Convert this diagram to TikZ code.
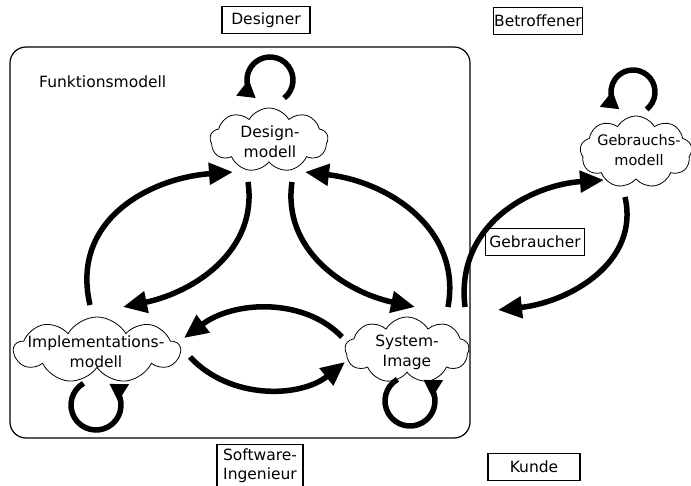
\documentclass[tikz,border=0pt]{standalone}
\usepackage{fontspec}
\setmainfont{DejaVu Sans}
\usetikzlibrary{arrows.meta,shapes.symbols}

\tikzset{
  txt/.style={font=\fontsize{15.5}{20}\selectfont, align=center, inner sep=0pt},
  rolebox/.style={draw, line width=1.3pt, font=\fontsize{15.5}{19}\selectfont,
    align=center, inner xsep=4pt, inner ysep=3pt, minimum height=27pt},
  puff/.style={cloud, cloud puffs=9, cloud puff arc=120, draw, line width=0.8pt,
    fill=white, inner sep=0pt},
  flow/.style={line width=5.5pt, -{Triangle[length=24pt,width=21pt]}},
  selfloop/.style={line width=5.5pt, -{Triangle[length=17pt,width=19pt]}},
}

\begin{document}
\begin{tikzpicture}[x=1pt,y=-1pt]
\useasboundingbox (0,0) rectangle (691,486);

% frame of the function model
\draw[line width=1.2pt, rounded corners=16pt] (10,47) rectangle (470,438);
\node[txt, anchor=west] (fm) at (39,82) {Funktionsmodell};

% role labels
\node[rolebox, minimum width=88pt] (designer) at (266,20) {Designer};
\node[rolebox, inner xsep=0.5pt] (betroffener) at (538,21) {Betroffener};
\node[rolebox, minimum width=90pt] (gebraucher) at (535,242) {Gebraucher};
\node[rolebox, minimum width=86pt, anchor=north, inner ysep=3pt,
      minimum height=50pt, text depth=12pt] (sw) at (260,444) {Software-\\Ingenieur};
\node[rolebox, minimum width=92pt] (kunde) at (534,467) {Kunde};

% model clouds
\node[puff, minimum width=118pt, minimum height=64pt] (design) at (269,140) {};
\node[txt] (design-t) at (270,142) {Design-\\modell};

\node[puff, minimum width=166pt, minimum height=66pt] (impl) at (97,350) {};
\node[txt] (impl-t) at (96,352) {Implementations-\\modell};

\node[puff, minimum width=124pt, minimum height=66pt] (sys) at (407,350) {};
\node[txt] (sys-t) at (407,352) {System-\\Image};

\node[puff, minimum width=112pt, minimum height=72pt] (use) at (636,152) {};
\node[txt, font=\fontsize{14.5}{20}\selectfont] (use-t) at (639,150) {Gebrauchs-\\modell};

% connector end points around the clouds
\coordinate (a1s) at (90,305);  \coordinate (a1e) at (233,172);
\coordinate (a2s) at (248,182); \coordinate (a2e) at (123,307);
\coordinate (a3s) at (292,182); \coordinate (a3e) at (415,307);
\coordinate (a4s) at (448,307); \coordinate (a4e) at (305,172);
\coordinate (a5s) at (342,337); \coordinate (a5e) at (184,338);
\coordinate (a6s) at (190,357); \coordinate (a6e) at (345,362);
\coordinate (a7s) at (465,307); \coordinate (a7e) at (604,180);
\coordinate (a8s) at (625,197); \coordinate (a8e) at (498,310);

% flows between the models
\draw[flow] (a1s) .. controls (70,220) and (150,178) .. (a1e);
\draw[flow] (a2s) .. controls (258,250) and (195,292) .. (a2e);
\draw[flow] (a3s) .. controls (282,250) and (345,292) .. (a3e);
\draw[flow] (a4s) .. controls (462,230) and (390,182) .. (a4e);
\draw[flow] (a5s) .. controls (305,298) and (235,300) .. (a5e);
\draw[flow] (a6s) .. controls (230,400) and (300,398) .. (a6e);
\draw[flow] (a7s) .. controls (455,225) and (530,185) .. (a7e);
\draw[flow] (a8s) .. controls (640,262) and (570,302) .. (a8e);

% each model refines itself
\draw[selfloop] ([shift={(270,80)}]0,0) ++(52:23) arc (52:-232:23);
\draw[selfloop] ([shift={(633,92)}]0,0) ++(52:22) arc (52:-232:22);
\draw[selfloop] ([shift={(96,405)}]0,0) ++(240:25) arc (240:-58:25);
\draw[selfloop] ([shift={(410,401)}]0,0) ++(240:25) arc (240:-58:25);
\end{tikzpicture}
\end{document}
